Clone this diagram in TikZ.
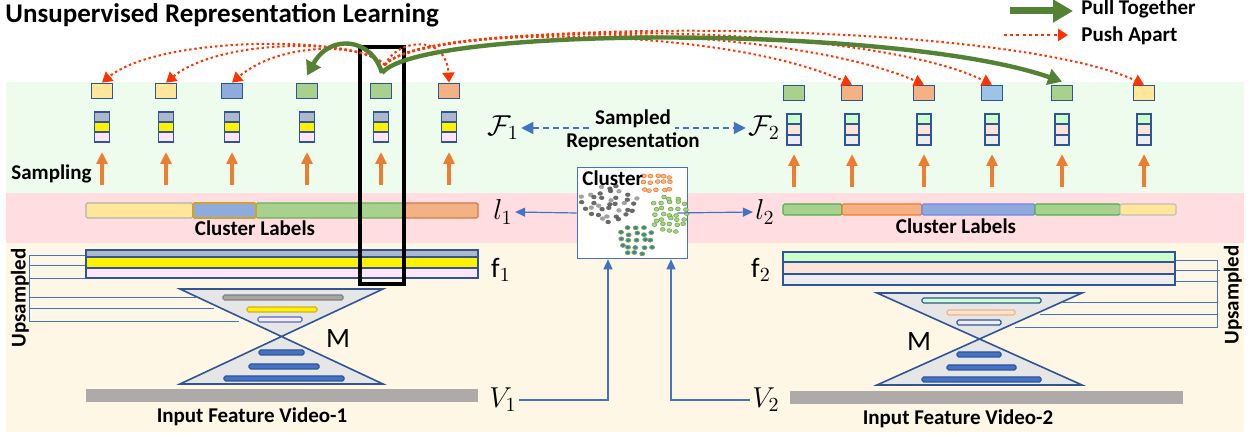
\documentclass[tikz,border=0pt]{standalone}
\usepackage{fontspec}
\setmainfont{Carlito}
\usetikzlibrary{arrows.meta}
\newlength\px \setlength\px{0.5pt}
\definecolor{bgG}{HTML}{EEFCEE}
\definecolor{bgP}{HTML}{FFDDE1}
\definecolor{bgC}{HTML}{FEF7E6}
\definecolor{dblue}{HTML}{2F5597}
\definecolor{lblue}{HTML}{4472C4}
\definecolor{orng}{HTML}{ED7D31}
\definecolor{grn}{HTML}{548235}
\definecolor{mgrn}{HTML}{70AD47}
\definecolor{rd}{HTML}{FF3300}
\definecolor{cY}{HTML}{FFE699}
\definecolor{cB}{HTML}{8FAADC}
\definecolor{cLB}{HTML}{9DC3E6}
\definecolor{cG}{HTML}{A9D18E}
\definecolor{cO}{HTML}{F4B183}
\definecolor{sGray}{HTML}{ADB9CA}
\definecolor{sPink}{HTML}{FFE5FF}
\definecolor{sGreen}{HTML}{CCFFCC}
\definecolor{sPeach}{HTML}{FBE5D6}
\definecolor{sLGray}{HTML}{EDEDED}
\definecolor{hgFill}{HTML}{E7E6E6}
\definecolor{inGray}{HTML}{AEAAAA}
\newcommand\lblfont{\fontsize{10.5}{12}\selectfont\bfseries}
\newcommand\mathlbl{\fontsize{14}{16}\selectfont}
\begin{document}
\begin{tikzpicture}[x=0.5pt,y=-0.5pt,
  lbox/.style={draw=dblue, line width=0.9pt, minimum width=21\px, minimum height=15\px, inner sep=0pt},
  stk/.style={draw=dblue, line width=0.7pt},
  oarrow/.style={draw=orng, line width=1.8pt, -{Triangle[length=6pt,width=5.5pt]}},
  garrow/.style={draw=grn, line width=2.2pt, -{Triangle[length=7pt,width=8pt]}},
  rdot/.style={draw=rd, line width=1pt, dash pattern=on 1.2pt off 1.4pt, -{Triangle[length=5pt,width=6pt]}},
  barrow/.style={draw=lblue, line width=0.6pt, -{Triangle[length=5pt,width=4.5pt]}},
  ups/.style={draw=lblue, line width=0.45pt},
  hg/.style={draw=dblue, fill=hgFill, line width=0.8pt, line join=miter},
  ibar/.style={line width=0.6pt, rounded corners=0.8pt},
  txt/.style={font=\lblfont, inner sep=1pt},
  mlbl/.style={font=\mathlbl, inner sep=2\px}
]
\useasboundingbox (0,0) rectangle (1252,437);
% backgrounds
\fill[bgG] (6,82) rectangle (1244,193);
\fill[bgP] (6,193) rectangle (1244,243);
\fill[bgC] (6,243) rectangle (1244,432);

% title
\node[anchor=base west, font=\fontsize{13.5}{15}\selectfont\bfseries, inner sep=0pt] (title) at (5,23) {Unsupervised Representation Learning};

% legend
\coordinate (lg1) at (1010,11); \coordinate (lg2) at (1073,11);
\draw[draw=grn, line width=3.5pt, -{Triangle[length=10pt,width=11pt]}] (lg1) -- (lg2);
\node[anchor=base west, txt, inner sep=0pt] (pull) at (1081,15) {Pull Together};
\coordinate (lr1) at (1004,35); \coordinate (lr2) at (1068,35);
\draw[rdot, line width=1.4pt, dash pattern=on 1.5pt off 1.6pt] (lr1) -- (lr2);
\node[anchor=base west, txt, inner sep=0pt] (push) at (1081,42) {Push Apart};

% top label boxes (left)
\node[lbox, fill=cY] (a1) at (102,91) {};
\node[lbox, fill=cY] (a2) at (166,91) {};
\node[lbox, fill=cB] (a3) at (232,91) {};
\node[lbox, fill=cG] (a4) at (307,91) {};
\node[lbox, fill=cG] (a5) at (381,91) {};
\node[lbox, fill=cO] (a6) at (449,91) {};
% right
\node[lbox, fill=cG] (b1) at (794,93) {};
\node[lbox, fill=cO] (b2) at (852,93) {};
\node[lbox, fill=cO] (b3) at (924,93) {};
\node[lbox, fill=cLB] (b4) at (992,93) {};
\node[lbox, fill=cG] (b5) at (1062,93) {};
\node[lbox, fill=cY] (b6) at (1144,93) {};

% stacks and sampling arrows
\foreach \x in {102,166,232,307,381,449}{
  \draw[stk, fill=sGray] (\x-7.5,112) rectangle (\x+7.5,122);
  \draw[stk, fill=yellow] (\x-7.5,122) rectangle (\x+7.5,132);
  \draw[stk, fill=sPink] (\x-7.5,132) rectangle (\x+7.5,142);
  \draw[oarrow] (\x,185) -- (\x,152);
}
\foreach \x in {794,852,924,992,1062,1144}{
  \draw[stk, fill=sGreen] (\x-7,114) rectangle (\x+7,124);
  \draw[stk, fill=sPeach] (\x-7,124) rectangle (\x+7,135);
  \draw[stk, fill=sLGray] (\x-7,135) rectangle (\x+7,145);
  \draw[oarrow] (\x,187) -- (\x,154);
}
\node[anchor=base west, txt, inner sep=0pt] (samp) at (11,180) {Sampling};

% F labels and sampled representation
\node[mlbl] (F1) at (503,128) {$\mathcal{F}_1$};
\node[mlbl] (F2) at (764,128) {$\mathcal{F}_2$};
\draw[draw=lblue, line width=0.7pt, dash pattern=on 3pt off 2pt, {Triangle[length=6pt,width=6pt]}-{Triangle[length=6pt,width=6pt]}] (F1.east) -- (F2.west);
\node[anchor=base, txt, fill=bgG, inner xsep=2pt] (sampled) at (633,125) {Sampled};
\node[anchor=base, txt, inner sep=0pt] (repr) at (633,148) {Representation};

% cluster labels bars (left)
\draw[ibar, draw=gray!60, fill=cY] (86,203) rectangle (193,218);
\draw[ibar, draw=orng!70!gray, fill=cO] (405,203) rectangle (478,218);
\draw[ibar, draw=cG!80!green!80!black, fill=cG] (256,203) rectangle (405,218);
\draw[ibar, draw=yellow!50!orange!80!black, line width=0.9pt, fill=cB] (193,203) rectangle (256,218);
\node[anchor=base, txt, inner sep=0pt] (cl1) at (255,236) {Cluster Labels};
% right
\draw[ibar, draw=green!40!gray, fill=cG] (783,204) rectangle (842,215);
\draw[ibar, draw=orng, fill=cO] (842,204) rectangle (922,215);
\draw[ibar, draw=cB!80!blue, fill=cB] (922,204) rectangle (1035,215);
\draw[ibar, draw=green!40!gray, fill=cG] (1035,204) rectangle (1120,215);
\draw[ibar, draw=gray!50, fill=cY] (1120,204) rectangle (1176,215);
\node[anchor=base, txt, inner sep=0pt] (cl2) at (956,234) {Cluster Labels};

% upsampled brackets (left)
\draw[ups] (86,255) -- (29,255) -- (29,321) -- (239,321);
\draw[ups] (29,265) -- (86,265);
\draw[ups] (29,278) -- (86,278);
\draw[ups] (29,297) -- (196,297);
\draw[ups] (29,308) -- (214,308);
% right
\draw[ups] (1175,260) -- (1217,260) -- (1217,327) -- (1015,327);
\draw[ups] (1175,270) -- (1220,270);
\draw[ups] (1175,281) -- (1217,281);
\draw[ups] (1063,302) -- (1217,302);
\draw[ups] (1040,314) -- (1217,314);
\node[rotate=90, txt] (ups1) at (20,298) {Upsampled};
\node[rotate=90, txt] (ups2) at (1233,295) {Upsampled};

% f bars
\draw[stk, line width=0.9pt, fill=sGray] (86,250) rectangle (478,257);
\draw[stk, line width=0.9pt, fill=yellow] (86,257) rectangle (478,268);
\draw[stk, line width=0.9pt, fill=sPink] (86,268) rectangle (478,278);
\draw[stk, line width=0.9pt, fill=sGreen] (783,252) rectangle (1175,262);
\draw[stk, line width=0.9pt, fill=sPeach] (783,262) rectangle (1175,274);
\draw[stk, line width=0.9pt, fill=sLGray] (783,274) rectangle (1175,285);

% hourglasses
\draw[hg] (180,289) -- (383,289) -- (180,384) -- (383,384) -- cycle;
\draw[hg] (877,293) -- (1082,293) -- (877,385) -- (1082,385) -- cycle;
\draw[ibar, draw=gray, fill=gray!70] (223,295) rectangle (343,300);
\draw[ibar, draw=yellow!60!orange!80!black, fill=yellow] (247,307) rectangle (317,312);
\draw[ibar, draw=lblue, fill=sPink] (258,317) rectangle (302,322);
\draw[ibar, draw=dblue, fill=lblue] (259,350) rectangle (304,355);
\draw[ibar, draw=dblue, fill=lblue] (249,364) rectangle (319,369);
\draw[ibar, draw=dblue, fill=lblue] (224,376) rectangle (344,381);
\draw[ibar, draw=dblue, fill=sGreen] (922,298) rectangle (1041,303);
\draw[ibar, draw=cO, fill=sPeach] (947,310) rectangle (1015,315);
\draw[ibar, draw=dblue, fill=sLGray] (957,320) rectangle (1001,325);
\draw[ibar, draw=dblue, fill=lblue] (957,352) rectangle (1001,357);
\draw[ibar, draw=dblue, fill=lblue] (947,365) rectangle (1016,370);
\draw[ibar, draw=dblue, fill=lblue] (922,377) rectangle (1041,382);
\node[font=\fontsize{14}{16}\selectfont] (M1) at (338,339) {M};
\node[font=\fontsize{14}{16}\selectfont] (M2) at (919,342) {M};

% input bars
\fill[inGray] (86,389) rectangle (478,402);
\fill[inGray] (790,391) rectangle (1183,404);
\node[anchor=base, txt, inner sep=0pt] (in1) at (252,423) {Input Feature Video-1};
\node[anchor=base, txt, inner sep=0pt] (in2) at (958,425) {Input Feature Video-2};

% cluster box
\node[draw=lblue, fill=white, line width=0.8pt, minimum width=110\px, minimum height=91\px, inner sep=0pt] (clu) at (632.5,213) {};
\pgfmathsetseed{5}
% gray cluster
\foreach \gx in {-3,...,3}{\foreach \gy in {-3,...,3}{
  \pgfmathparse{((\gx)/3.5)^2+((\gy)/3.3)^2<1 ? 1 : 0}
  \ifdim\pgfmathresult pt>0.5pt
    \pgfmathsetmacro\sh{mod(\gx+\gy+7,3)==0 ? 40 : 65}
    \fill[black!\sh, opacity=0.9] ({609+8.5*\gx+2.5*rand},{204+5.5*\gy+2*rand}) ellipse (2.7 and 2.2);
  \fi}}
% orange cluster
\foreach \gx in {-2,...,2}{\foreach \gy in {-1,...,1}{
  \pgfmathparse{((\gx)/2.6)^2+((\gy)/1.6)^2<1 ? 1 : 0}
  \ifdim\pgfmathresult pt>0.5pt
    \filldraw[draw=orng, fill=orng!55, line width=0.3pt] ({657+7*\gx+2*rand},{183+6.5*\gy+1.5*rand}) ellipse (2.4 and 1.9);
  \fi}}
% light green cluster
\foreach \gx in {-2,...,2}{\foreach \gy in {-3,...,3}{
  \pgfmathparse{((\gx)/2.6)^2+((\gy)/3.4)^2<1 ? 1 : 0}
  \ifdim\pgfmathresult pt>0.5pt
    \filldraw[draw=mgrn, fill=cG, line width=0.3pt] ({670+7.5*\gx+2*rand},{214+5.5*\gy+1.5*rand}) ellipse (2.4 and 1.9);
  \fi}}
% green-blue cluster
\foreach \gx in {-2,...,2}{\foreach \gy in {-2,...,2}{
  \pgfmathparse{((\gx)/2.6)^2+((\gy)/2.6)^2<1 ? 1 : 0}
  \ifdim\pgfmathresult pt>0.5pt
    \filldraw[draw=mgrn, fill=lblue, line width=0.45pt] ({636+7.5*\gx+2*rand},{240+6.5*\gy+1.5*rand}) ellipse (2.4 and 1.9);
  \fi}}
\node[anchor=base west, txt, inner sep=0pt] (clt) at (582,186) {Cluster};

% math labels
\node[mlbl] (l1) at (503,212) {$l_1$};
\node[mlbl] (l2) at (765,212) {$l_2$};
\node[mlbl] (f1) at (501,270) {$\mathrm{f}_1$};
\node[mlbl] (f2) at (761,270) {$\mathrm{f}_2$};
\node[mlbl] (V1) at (503,400) {$V_1$};
\node[mlbl] (V2) at (766,400) {$V_2$};
\draw[barrow] (clu.west) -- (l1.east);
\draw[barrow] ([xshift=-11\px]clu.east) -- (l2.west);
\draw[barrow] (V1.east) -| ([xshift=-24.5\px]clu.south);
\draw[barrow] (V2.west) -| ([xshift=38.5\px]clu.south);

% black selection rectangle
\draw[line width=2pt] (360,47) rectangle (404,284);

% push apart (red dotted)
\coordinate (src) at (385,65);
\draw[rdot] (src) .. controls (360,35) and (160,35) .. (a1.north);
\draw[rdot] (src) .. controls (360,38) and (220,38) .. (a2.north);
\draw[rdot] (src) .. controls (360,42) and (280,42) .. (a3.north);
\draw[rdot] (src) .. controls (395,40) and (446,32) .. (a6.north);
\draw[rdot] (src) .. controls (420,25) and (720,25) .. (b2.north);
\draw[rdot] (src) .. controls (420,22) and (780,22) .. (b3.north);
\draw[rdot] (src) .. controls (420,20) and (860,20) .. (b4.north);
\draw[rdot] (src) .. controls (420,17) and (1000,17) .. (b6.north);

% pull together (green)
\coordinate (gsrc) at (382,73);
\draw[garrow] (gsrc) .. controls (372,38) and (330,33) .. ([yshift=7\px]a4.north);
\draw[garrow] (gsrc) .. controls (420,25) and (900,25) .. ([yshift=3\px]b5.north);
\end{tikzpicture}
\end{document}
